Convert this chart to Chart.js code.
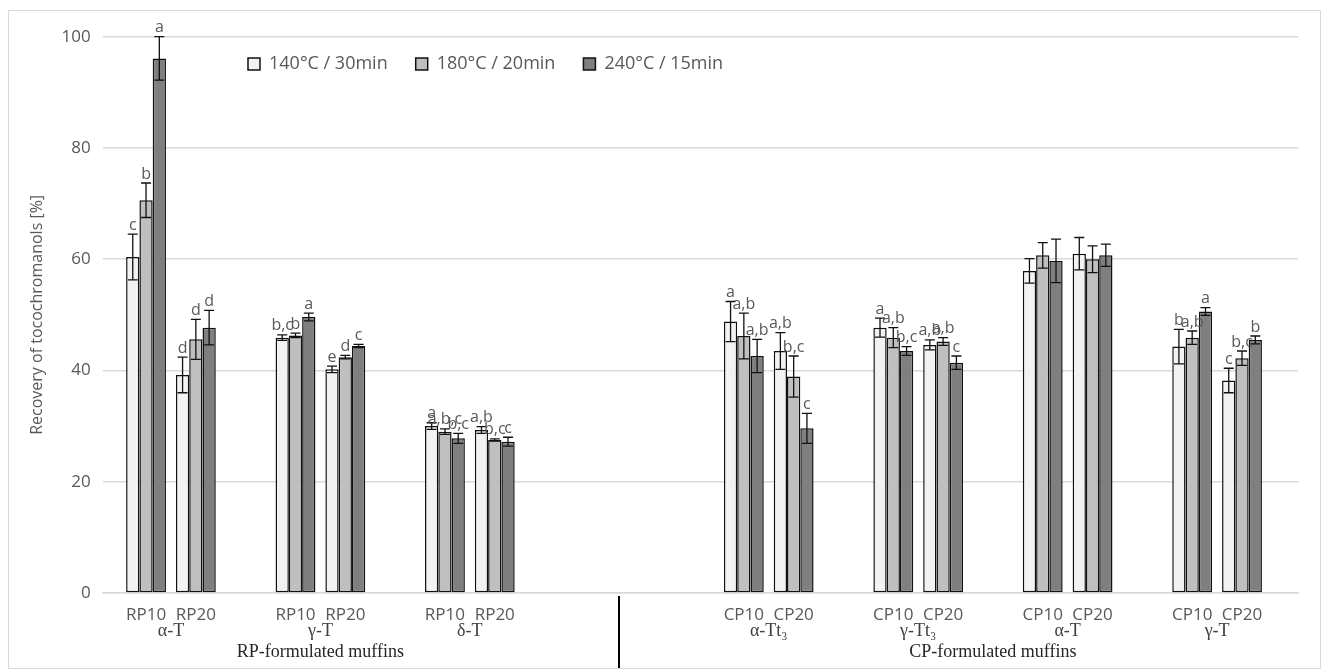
<!DOCTYPE html>
<html>
<head>
<meta charset="utf-8">
<script src="https://cdn.jsdelivr.net/npm/chart.js@4.4.0/dist/chart.umd.min.js"></script>
<style>
  html, body { margin: 0; padding: 0; background: #fff; }
  .chart-box { position: absolute; left: 8px; top: 10px; width: 1311px; height: 657px; border: 1px solid #d9d9d9; }
  canvas { display: block; }
</style>
</head>
<body>
<div class="chart-box"><canvas id="chart" width="1311" height="657"></canvas></div>
<script>
// category slots, '' = empty gap slot
const categories = ['RP10', 'RP20', '', 'RP10', 'RP20', '', 'RP10', 'RP20', '', '', '', '',
  'CP10', 'CP20', '', 'CP10', 'CP20', '', 'CP10', 'CP20', '', 'CP10', 'CP20', ''];
const groups = ['α-T', 'γ-T', 'δ-T', 'α-Tt₃', 'γ-Tt₃', 'α-T', 'γ-T'];
const sections = ['RP-formulated muffins', 'CP-formulated muffins'];
const sectionGroups = [3, 4];
const seriesNames = ['140°C / 30min', '180°C / 20min', '240°C / 15min'];
const yTicks = [0, 20, 40, 60, 80, 100];

const s140 = [60.4, 39.2, null, 45.9, 40.2, null, 30.0, 29.3, null, null, null, null,
  48.8, 43.5, null, 47.7, 44.6, null, 57.9, 61.0, null, 44.3, 38.2, null];
const s180 = [70.6, 45.6, null, 46.3, 42.4, null, 29.0, 27.5, null, null, null, null,
  46.2, 38.9, null, 45.9, 45.2, null, 60.7, 60.0, null, 45.9, 42.2, null];
const s240 = [96.1, 47.7, null, 49.6, 44.4, null, 27.8, 27.2, null, null, null, null,
  42.6, 29.6, null, 43.5, 41.4, null, 59.7, 60.7, null, 50.6, 45.5, null];

const e140 = [4.1, 3.2, null, 0.5, 0.6, null, 0.6, 0.6, null, null, null, null,
  3.6, 3.3, null, 1.7, 0.9, null, 2.2, 2.9, null, 3.1, 2.2, null];
const e180 = [3.1, 3.6, null, 0.4, 0.3, null, 0.5, 0.2, null, null, null, null,
  4.1, 3.7, null, 1.8, 0.7, null, 2.3, 2.4, null, 1.2, 1.3, null];
const e240 = [3.9, 3.1, null, 0.7, 0.3, null, 0.9, 0.8, null, null, null, null,
  3.0, 2.7, null, 0.8, 1.2, null, 3.9, 2.0, null, 0.7, 0.7, null];

const t140 = ['c', 'd', '', 'b,c', 'e', '', 'a', 'a,b', '', '', '', '',
  'a', 'a,b', '', 'a', 'a,b', '', '', '', '', 'b', 'c', ''];
const t180 = ['b', 'd', '', 'b', 'd', '', 'a,b,c', 'b,c', '', '', '', '',
  'a,b', 'b,c', '', 'a,b', 'a,b', '', '', '', '', 'a,b', 'b,c', ''];
const t240 = ['a', 'd', '', 'a', 'c', '', 'b,c', 'c', '', '', '', '',
  'a,b', 'c', '', 'b,c', 'c', '', '', '', '', 'a', 'b', ''];

const fills = ['#f2f2f2', '#bfbfbf', '#7f7f7f'];
const grey = '#595959';

function points(vals, errs, tags) {
  return vals.map((v, i) => v == null ? null : { x: i, y: v, err: errs[i], tag: tags[i] }).filter(Boolean);
}

const datasets = [
  points(s140, e140, t140),
  points(s180, e180, t180),
  points(s240, e240, t240),
].map((data, k) => ({
  label: seriesNames[k],
  data,
  backgroundColor: fills[k],
  borderColor: '#111',
  borderWidth: 1.5,
  borderSkipped: false,
  categoryPercentage: 0.8,
  barPercentage: 1.0,
}));

// error bars + significance letters
const errorBars = {
  id: 'errorBars',
  afterDatasetsDraw(chart) {
    const { ctx } = chart;
    const y = chart.scales.y;
    const tops = [];
    ctx.save();
    ctx.strokeStyle = '#111';
    ctx.lineWidth = 1.3;
    chart.data.datasets.forEach((ds, k) => {
      chart.getDatasetMeta(k).data.forEach((bar, j) => {
        const d = ds.data[j];
        const top = y.getPixelForValue(d.y + d.err);
        const low = y.getPixelForValue(d.y - d.err);
        ctx.beginPath();
        ctx.moveTo(bar.x, low); ctx.lineTo(bar.x, top);
        ctx.moveTo(bar.x - 5, top); ctx.lineTo(bar.x + 5, top);
        ctx.moveTo(bar.x - 5, low); ctx.lineTo(bar.x + 5, low);
        ctx.stroke();
        if (d.tag) tops.push([d.tag, bar.x, top]);
      });
    });
    ctx.fillStyle = grey;
    ctx.font = '16px "Open Sans"';
    ctx.textAlign = 'center';
    ctx.textBaseline = 'bottom';
    tops.forEach(([t, x, top]) => ctx.fillText(t, x, top - 1));
    ctx.restore();
  }
};

// second/third level x labels and the section divider
const groupLabels = {
  id: 'groupLabels',
  afterDraw(chart) {
    const { ctx, chartArea } = chart;
    const x = chart.scales.x;
    const runs = [];
    categories.forEach((c, i) => {
      if (!c) return;
      const last = runs[runs.length - 1];
      if (last && last.end === i - 1) last.end = i; else runs.push({ start: i, end: i });
    });
    ctx.save();
    ctx.textAlign = 'center';
    ctx.textBaseline = 'middle';
    ctx.font = '18px "Liberation Serif"';
    ctx.fillStyle = '#404040';
    runs.forEach((r, g) => ctx.fillText(groups[g], x.getPixelForValue((r.start + r.end) / 2), chartArea.bottom + 38));
    ctx.fillStyle = '#262626';
    let g0 = 0;
    sectionGroups.forEach((n, s) => {
      const a = runs[g0].start, b = runs[g0 + n - 1].end;
      ctx.fillText(sections[s], x.getPixelForValue((a + b) / 2), chartArea.bottom + 59);
      g0 += n;
    });
    const prev = runs[sectionGroups[0] - 1].end, next = runs[sectionGroups[0]].start;
    const dx = Math.round(x.getPixelForValue((prev + next) / 2));
    ctx.strokeStyle = '#000';
    ctx.lineWidth = 2;
    ctx.beginPath();
    ctx.moveTo(dx, chartArea.bottom + 3);
    ctx.lineTo(dx, chart.height);
    ctx.stroke();
    ctx.restore();
  }
};

// legend floats inside the plot like in the Excel original
const legendPlace = {
  id: 'legendPlace',
  afterLayout(chart) {
    const lg = chart.legend;
    lg.left = 211; lg.right = lg.left + 900;
    lg.top = 16; lg.bottom = lg.top + 60;
  }
};

new Chart(document.getElementById('chart'), {
  type: 'bar',
  data: { datasets },
  plugins: [errorBars, groupLabels, legendPlace],
  options: {
    responsive: false,
    animation: false,
    layout: { padding: { top: 24.7, right: 21.7, bottom: 0, left: 0 } },
    scales: {
      x: {
        type: 'linear',
        offset: false,
        min: -0.87,
        max: 23.13,
        afterBuildTicks: s => { s.ticks = categories.map((c, i) => ({ value: i })); },
        afterFit: s => { s.height = 75; },
        ticks: {
          autoSkip: false, maxRotation: 0, padding: 4, color: grey,
          font: { family: 'Open Sans', size: 17 },
          callback: v => categories[v] || '',
        },
        grid: { display: false, offset: false },
        border: { color: '#d9d9d9', width: 1.5 },
      },
      y: {
        min: 0,
        max: 100,
        afterBuildTicks: s => { s.ticks = yTicks.map(v => ({ value: v })); },
        afterFit: s => { s.width = 93.7; },
        ticks: { padding: 12, color: grey, font: { family: 'Open Sans', size: 17 } },
        grid: { color: '#d9d9d9', lineWidth: 1.5, drawTicks: false },
        border: { display: false },
        title: {
          display: true, text: 'Recovery of tocochromanols [%]', color: grey,
          font: { family: 'Open Sans', size: 16 }, padding: { top: 19, bottom: 0 },
        },
      },
    },
    plugins: {
      legend: {
        position: 'top',
        align: 'start',
        maxHeight: 1,
        labels: {
          boxWidth: 12, boxHeight: 12, padding: 28, color: grey,
          font: { family: 'Open Sans', size: 18 },
        },
      },
      tooltip: { enabled: false },
    },
  },
});
</script>
</body>
</html>
